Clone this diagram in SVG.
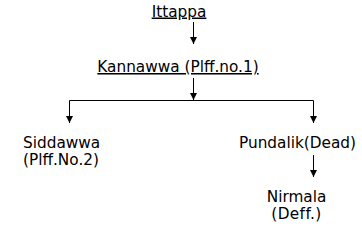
<svg xmlns="http://www.w3.org/2000/svg" width="362" height="227" viewBox="0 0 362 227">
<defs>
<marker id="ah" markerWidth="8" markerHeight="8" refX="7" refY="4" orient="auto" markerUnits="userSpaceOnUse">
<path d="M0,0.5 L7,4 L0,7.5 Z" fill="#000"/>
</marker>
<style>
text{font-family:"DejaVu Sans",Verdana,sans-serif;font-size:15.3px;fill:#000}
.u{text-decoration:underline}
.c{stroke:#000;stroke-width:1;fill:none}
</style>
</defs>
<rect width="362" height="227" fill="#fff"/>
<g id="connectors">
<line class="c" x1="193.5" y1="22" x2="193.5" y2="44" marker-end="url(#ah)"/>
<line class="c" x1="193.5" y1="78" x2="193.5" y2="100" marker-end="url(#ah)"/>
<polyline class="c" points="69.5,123 69.5,100.5 313.5,100.5 313.5,123"/>
<line class="c" x1="69.5" y1="110" x2="69.5" y2="123" marker-end="url(#ah)"/>
<line class="c" x1="313.5" y1="110" x2="313.5" y2="123" marker-end="url(#ah)"/>
<line class="c" x1="313.5" y1="155" x2="313.5" y2="177" marker-end="url(#ah)"/>
</g>
<g id="ittappa"><text class="u" x="179" y="16.5" text-anchor="middle">Ittappa</text></g>
<g id="kannawwa"><text class="u" x="178" y="72" text-anchor="middle">Kannawwa (Plff.no.1)</text></g>
<g id="siddawwa"><text x="23" y="147.5">Siddawwa</text><text x="23" y="164.5">(Plff.No.2)</text></g>
<g id="pundalik"><text x="239" y="147.5">Pundalik(Dead)</text></g>
<g id="nirmala"><text x="296.5" y="202" text-anchor="middle">Nirmala</text><text x="296.5" y="219" text-anchor="middle" letter-spacing="0.4">(Deff.)</text></g>
</svg>
